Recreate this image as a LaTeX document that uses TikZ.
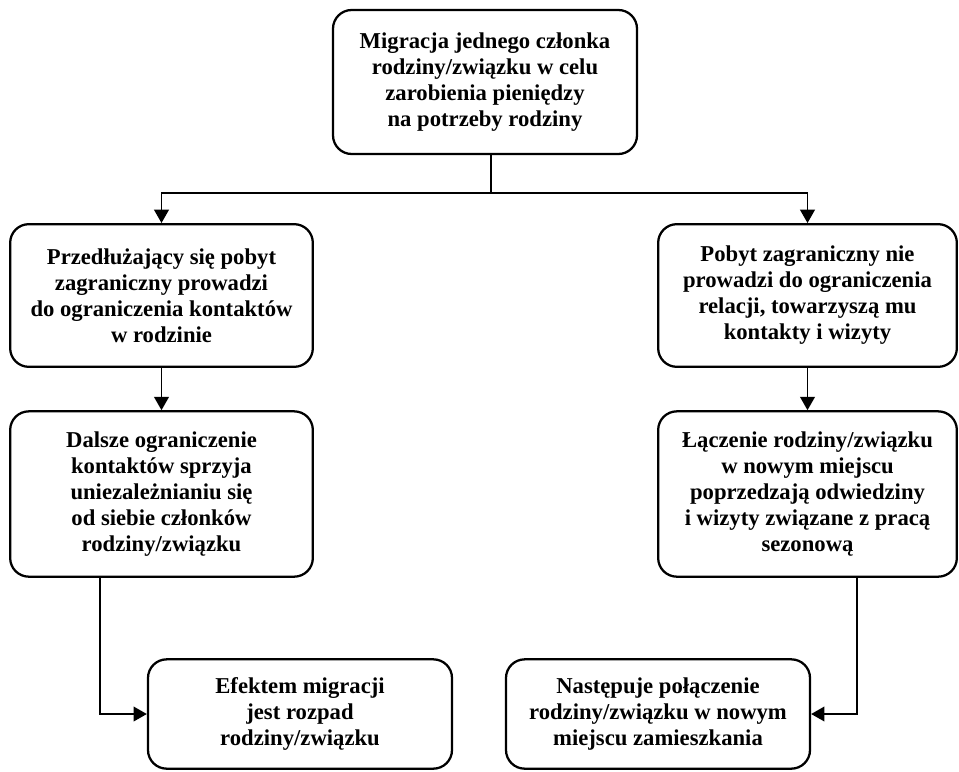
\documentclass[tikz,border=0pt]{standalone}
\usepackage{fontspec}
\setmainfont{Liberation Serif}
\usetikzlibrary{arrows.meta}

\begin{document}
\begin{tikzpicture}[x=0.75pt,y=0.75pt,yscale=-1,xscale=1,
  stagebox/.style={draw, line width=1.7pt, rounded corners=14pt, align=center,
    inner sep=0pt, font=\fontsize{17}{19.5}\selectfont\bfseries},
  flowarrow/.style={line width=1.4pt, -{Triangle[length=10pt,width=11pt]}}]
%set diagram left start at 0, and has height of 771
\useasboundingbox (0,0) rectangle (959,771);

%Shape: Rounded Rectangle [id:top] 
\node [stagebox, minimum width=228pt, minimum height=108pt] (migracja) at (485,82)
  {Migracja jednego członka\\rodziny/związku w celu\\zarobienia pieniędzy\\na potrzeby rodziny};
%Shape: Rounded Rectangle [id:left2] 
\node [stagebox, minimum width=227pt, minimum height=107pt] (przedluzajacy) at (161.5,295.5)
  {Przedłużający się pobyt\\zagraniczny prowadzi\\do ograniczenia kontaktów\\w rodzinie};
%Shape: Rounded Rectangle [id:right2] 
\node [stagebox, minimum width=224pt, minimum height=107pt] (pobyt) at (807.5,295.5)
  {Pobyt zagraniczny nie\\prowadzi do ograniczenia\\relacji, towarzyszą mu\\kontakty i wizyty};
%Shape: Rounded Rectangle [id:left3] 
\node [stagebox, minimum width=227pt, minimum height=124pt] (dalsze) at (161.5,494)
  {Dalsze ograniczenie\\kontaktów sprzyja\\uniezależnianiu się\\od siebie członków\\rodziny/związku};
%Shape: Rounded Rectangle [id:right3] 
\node [stagebox, minimum width=224pt, minimum height=124pt] (laczenie) at (807.5,494)
  {Łączenie rodziny/związku\\w nowym miejscu\\poprzedzają odwiedziny\\i wizyty związane z pracą\\sezonową};
%Shape: Rounded Rectangle [id:left4] 
\node [stagebox, minimum width=228pt, minimum height=82pt] (rozpad) at (300,714)
  {Efektem migracji\\jest rozpad\\rodziny/związku};
%Shape: Rounded Rectangle [id:right4] 
\node [stagebox, minimum width=228pt, minimum height=82pt] (polaczenie) at (658,714)
  {Następuje połączenie\\rodziny/związku w nowym\\miejscu zamieszkania};

%Straight Lines [id:split] 
\coordinate (rozwidlenie) at (491,193);
\draw [line width=1.4pt] ([xshift=4.5pt]migracja.south) -- (rozwidlenie);
\draw [flowarrow] (rozwidlenie) -| (przedluzajacy.north);
\draw [flowarrow] (rozwidlenie) -| (pobyt.north);
\draw [flowarrow] (przedluzajacy) -- (dalsze);
\draw [flowarrow] (pobyt) -- (laczenie);
\draw [flowarrow] ([xshift=-46pt]dalsze.south) |- (rozpad.west);
\draw [flowarrow] ([xshift=37pt]laczenie.south) |- (polaczenie.east);

\end{tikzpicture}
\end{document}
